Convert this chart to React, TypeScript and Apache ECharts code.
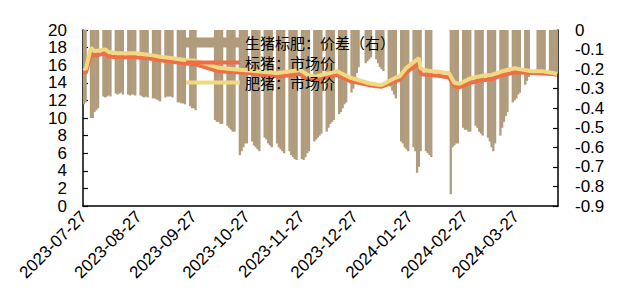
import React, { useEffect, useRef } from 'react';
import * as echarts from 'echarts';

const startDate = '2023-07-27';
const dayCount = 268;
const xTickLabels = ['2023-07-27', '2023-08-27', '2023-09-27', '2023-10-27', '2023-11-27', '2023-12-27', '2024-01-27', '2024-02-27', '2024-03-27'];
const leftTicks = [0, 2, 4, 6, 8, 10, 12, 14, 16, 18, 20];
const rightTicks = [-0.9, -0.8, -0.7, -0.6, -0.5, -0.4, -0.3, -0.2, -0.1, 0];

const seriesNames = ['生猪标肥：价差（右）', '标猪：市场价', '肥猪：市场价'];

// spread (right axis), week by week, Monday..Friday, first Monday 2023-07-24
const spreadWeekStart = '2023-07-24';
const spreadByWeek: (number | null)[][] = [
  [null, null, null, -0.38, -0.37],
  [-0.45, -0.45, -0.42, -0.41, -0.40],
  [-0.34, -0.345, -0.34, -0.335, -0.34],
  [-0.325, -0.33, -0.325, -0.32, -0.33],
  [-0.33, -0.335, -0.33, -0.33, -0.335],
  [-0.335, -0.34, -0.345, -0.34, -0.345],
  [-0.35, -0.35, -0.355, -0.36, -0.365],
  [-0.345, -0.34, -0.34, -0.34, -0.345],
  [-0.37, -0.37, -0.375, -0.375, -0.38],
  [-0.39, -0.40, -0.40, -0.41, null],
  [null, null, null, null, null],
  [-0.46, -0.47, -0.47, -0.48, -0.48],
  [-0.49, -0.50, -0.51, -0.52, -0.52],
  [-0.64, -0.62, -0.60, -0.58, -0.58],
  [-0.57, -0.59, -0.60, -0.61, -0.62],
  [-0.55, -0.56, -0.58, -0.59, -0.60],
  [-0.58, -0.60, -0.61, -0.62, -0.63],
  [-0.62, -0.64, -0.65, -0.66, -0.665],
  [-0.66, -0.665, -0.65, -0.63, -0.62],
  [-0.57, -0.56, -0.55, -0.54, -0.53],
  [-0.52, -0.50, -0.48, -0.47, -0.46],
  [-0.43, -0.42, -0.40, -0.38, -0.37],
  [-0.32, -0.30, -0.26, -0.22, -0.19],
  [null, -0.17, -0.16, -0.15, -0.14],
  [-0.15, -0.17, -0.19, -0.20, -0.21],
  [-0.27, -0.29, -0.31, -0.33, -0.35],
  [-0.57, -0.58, -0.60, -0.61, -0.62],
  [-0.60, -0.62, -0.73, -0.70, -0.62],
  [-0.62, -0.63, -0.64, -0.65, null],
  [null, null, null, null, null],
  [-0.84, -0.60, -0.59, -0.58, -0.58],
  [-0.50, -0.51, -0.51, -0.52, -0.52],
  [-0.49, -0.50, -0.52, -0.53, -0.54],
  [-0.55, -0.57, -0.60, -0.62, -0.58],
  [-0.54, -0.50, -0.47, -0.44, -0.42],
  [-0.37, -0.36, -0.35, -0.33, -0.32],
  [-0.28, -0.26, -0.24, null, null],
  [-0.23, -0.22, -0.22, -0.21, -0.21],
  [-0.22, -0.22, -0.21, -0.22, -0.22],
];

// market prices (left axis), read at these dates
const priceDates = [
  '2023-07-27', '2023-07-28', '2023-07-31', '2023-08-02', '2023-08-05', '2023-08-08', '2023-08-10',
  '2023-08-15', '2023-08-25', '2023-09-01', '2023-09-07', '2023-09-15', '2023-09-22', '2023-09-28',
  '2023-10-11', '2023-10-21', '2023-10-28', '2023-11-05', '2023-11-13', '2023-11-26', '2023-12-01',
  '2023-12-04', '2023-12-17', '2023-12-24', '2024-01-04', '2024-01-08', '2024-01-11', '2024-01-19',
  '2024-01-21', '2024-01-25', '2024-02-01', '2024-02-02', '2024-02-05', '2024-02-12', '2024-02-18',
  '2024-02-21', '2024-02-24', '2024-03-01', '2024-03-08', '2024-03-13', '2024-03-18', '2024-03-26',
  '2024-04-05', '2024-04-11', '2024-04-16', '2024-04-19',
];
const standardPrice = [
  15.3, 15.1, 17.2, 17.1, 17.2, 17.35, 17.0,
  16.9, 16.9, 16.8, 16.6, 16.4, 16.2, 16.1,
  15.3, 15.2, 15.1, 14.9, 14.7, 15.0, 14.4,
  14.3, 14.9, 14.2, 13.75, 13.6, 13.55, 14.2,
  14.3, 15.2, 16.2, 15.0, 14.9, 14.8, 14.6,
  13.6, 13.5, 14.0, 14.3, 14.4, 14.8, 15.2,
  15.1, 15.05, 15.0, 14.9,
];
const fatPrice = [
  15.7, 15.5, 18.0, 17.6, 17.7, 17.8, 17.5,
  17.35, 17.35, 17.2, 17.0, 16.8, 16.6, 16.5,
  15.7, 15.5, 15.4, 15.25, 15.1, 15.45, 14.8,
  14.7, 15.3, 14.6, 13.95, 13.8, 13.75, 14.6,
  14.7, 15.7, 16.8, 15.65, 15.4, 15.25, 15.1,
  14.0, 13.9, 14.5, 14.8, 14.9, 15.25, 15.65,
  15.3, 15.3, 15.15, 15.0,
];

const DAY = 86400000;
function isoDay(ms: number) {
  return new Date(ms).toISOString().slice(0, 10);
}
function parseDay(s: string) {
  const [y, m, d] = s.split('-').map(Number);
  return Date.UTC(y, m - 1, d);
}

const LINE_ICON = 'path://M0,0L54,0L54,4L0,4Z';

export default function App() {
  const ref = useRef<HTMLDivElement>(null);
  useEffect(() => {
    if (!ref.current) return;
    const chart = echarts.init(ref.current, undefined, { renderer: 'svg' });
    const t0 = parseDay(startDate);
    const dates: string[] = [];
    for (let i = 0; i < dayCount; i++) dates.push(isoDay(t0 + i * DAY));
    const indexOf: Record<string, number> = {};
    dates.forEach((d, i) => (indexOf[d] = i));

    const spread: (number | null)[] = dates.map(() => null);
    const w0 = parseDay(spreadWeekStart);
    spreadByWeek.forEach((week, wi) => {
      week.forEach((v, di) => {
        const key = isoDay(w0 + (wi * 7 + di) * DAY);
        if (key in indexOf) spread[indexOf[key]] = v;
      });
    });
    const std: (number | null)[] = dates.map(() => null);
    const fat: (number | null)[] = dates.map(() => null);
    priceDates.forEach((d, i) => {
      std[indexOf[d]] = standardPrice[i];
      fat[indexOf[d]] = fatPrice[i];
    });

    const labelSet = new Set(xTickLabels);
    const axisFont = { fontFamily: 'Liberation Sans, Arial, sans-serif', fontSize: 17, color: '#000' };

    chart.setOption({
      animation: false,
      grid: { left: 83, right: 64, top: 30, bottom: 97 },
      legend: {
        orient: 'vertical',
        left: 181,
        top: 30,
        itemWidth: 54,
        itemHeight: 10,
        itemGap: 5,
        data: [
          { name: seriesNames[0], icon: 'rect' },
          { name: seriesNames[1], icon: LINE_ICON },
          { name: seriesNames[2], icon: LINE_ICON },
        ],
        textStyle: { fontFamily: 'Noto Sans CJK SC', fontSize: 15, color: '#000', lineHeight: 15 },
        selectedMode: false,
      },
      xAxis: {
        type: 'category',
        data: dates,
        axisLine: { lineStyle: { color: '#000', width: 1.5 } },
        axisTick: {
          inside: true,
          length: 5,
          alignWithLabel: true,
          interval: (_i: number, v: string) => labelSet.has(v),
          lineStyle: { color: '#000', width: 1.2 },
        },
        axisLabel: {
          ...axisFont,
          rotate: 45,
          margin: 8,
          interval: (_i: number, v: string) => labelSet.has(v),
        },
        splitLine: { show: false },
      },
      yAxis: [
        {
          type: 'value',
          min: leftTicks[0],
          max: leftTicks[leftTicks.length - 1],
          interval: 2,
          axisLine: { show: true, lineStyle: { color: '#000', width: 1.5 } },
          axisTick: { show: true, inside: true, length: 5, lineStyle: { color: '#000', width: 1.2 } },
          axisLabel: { ...axisFont, margin: 16 },
          splitLine: { show: false },
        },
        {
          type: 'value',
          min: rightTicks[0],
          max: rightTicks[rightTicks.length - 1],
          interval: 0.1,
          axisLine: { show: true, lineStyle: { color: '#000', width: 1.5 } },
          axisTick: { show: true, inside: true, length: 5, lineStyle: { color: '#000', width: 1.2 } },
          axisLabel: {
            ...axisFont,
            margin: 17,
            formatter: (v: number) => (Math.abs(v) < 1e-9 ? '0' : v.toFixed(1)),
          },
          splitLine: { show: false },
        },
      ],
      series: [
        {
          name: seriesNames[0],
          type: 'bar',
          yAxisIndex: 1,
          data: spread,
          barWidth: 2.3,
          itemStyle: { color: '#B09C7D' },
        },
        {
          name: seriesNames[1],
          type: 'line',
          yAxisIndex: 0,
          data: std,
          connectNulls: true,
          symbol: 'none',
          lineStyle: { color: '#EE6E45', width: 4 },
          itemStyle: { color: '#EE6E45' },
        },
        {
          name: seriesNames[2],
          type: 'line',
          yAxisIndex: 0,
          data: fat,
          connectNulls: true,
          symbol: 'none',
          lineStyle: { color: '#F2D880', width: 4 },
          itemStyle: { color: '#F2D880' },
        },
      ],
    });
    return () => chart.dispose();
  }, []);
  return <div ref={ref} style={{ position: 'absolute', left: 0, top: 0, width: 622, height: 303 }} />;
}
